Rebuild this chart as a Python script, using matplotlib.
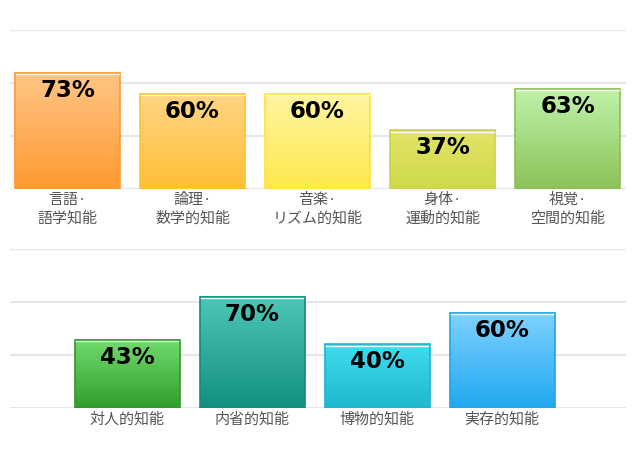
import matplotlib
matplotlib.use("Agg")
import matplotlib.pyplot as plt
import numpy as np
from matplotlib.colors import LinearSegmentedColormap

plt.rcParams['font.family'] = ['Noto Sans CJK JP', 'DejaVu Sans']

top_labels = ["言語·\n語学知能", "論理·\n数学的知能", "音楽·\nリズム的知能", "身体·\n運動的知能", "視覚·\n空間的知能"]
top_values = [73, 60, 60, 37, 63]
top_colors = [("#ffc587", "#ff9a30", "#ff9a2e"),
              ("#ffd585", "#ffbf35", "#ffc232"),
              ("#fff5a2", "#ffe84c", "#ffe23a"),
              ("#e2e466", "#cfd94a", "#c9d448"),
              ("#c0f2ab", "#8cc257", "#8bc152")]

bottom_labels = ["対人的知能", "内省的知能", "博物的知能", "実存的知能"]
bottom_values = [43, 70, 40, 60]
bottom_colors = [("#72dc6e", "#2f9d2b", "#2e9a2a"),
                 ("#4cc7b8", "#138f80", "#138a7d"),
                 ("#40dcef", "#1fb8cf", "#22b2cc"),
                 ("#80d2ff", "#20a8f0", "#22a4e8")]

W, H = 635, 470
fig = plt.figure(figsize=(W / 100, H / 100), dpi=100)

bar_w = 0.84
span = 616 / 125


def draw_panel(rect, labels, values, colors, xmin):
    ax = fig.add_axes(rect)
    ax.set_xlim(xmin, xmin + span)
    ax.set_ylim(0, 100)
    for g in [0, 100 / 3, 200 / 3, 100]:
        ax.axhline(g, color="#e6e6e6", lw=1.5, zorder=0)
    grad = np.linspace(0, 1, 256).reshape(-1, 1)
    for i, (v, (c_top, c_bot, c_edge)) in enumerate(zip(values, colors)):
        cmap = LinearSegmentedColormap.from_list("g%d" % i, [c_bot, c_top])
        ax.imshow(grad, cmap=cmap, origin="lower", aspect="auto",
                  extent=[i - bar_w / 2, i + bar_w / 2, 0, v], zorder=2)
        ax.bar(i, v, width=bar_w, facecolor="none", edgecolor=c_edge, lw=1.2, zorder=3)
        ax.plot([i - bar_w / 2 + 0.01, i + bar_w / 2 - 0.01], [v - 0.9, v - 0.9],
                color="white", lw=1, alpha=0.9, zorder=3)
        ax.text(i, v - 11, "%d%%" % v, ha="center", va="center",
                fontsize=16.5, fontweight="bold", color="black",
                family="DejaVu Sans", zorder=4)
    ax.set_xlim(xmin, xmin + span)
    ax.set_ylim(0, 100)
    ax.set_xticks(range(len(values)))
    ax.set_xticklabels(labels, fontsize=10.8, color="#555555", linespacing=1.38)
    ax.tick_params(axis="x", length=0, pad=3)
    ax.set_yticks([])
    for s in ax.spines.values():
        s.set_visible(False)
    return ax


# top panel: baseline y=189, top y=30
draw_panel([10 / W, 1 - 189 / H, 616 / W, 159 / H],
           top_labels, top_values, top_colors, -0.46)
# bottom panel: baseline y=408, top y=249
draw_panel([10 / W, 1 - 408 / H, 616 / W, 159 / H],
           bottom_labels, bottom_values, bottom_colors, -0.936)

fig.savefig("out.png", dpi=100)
